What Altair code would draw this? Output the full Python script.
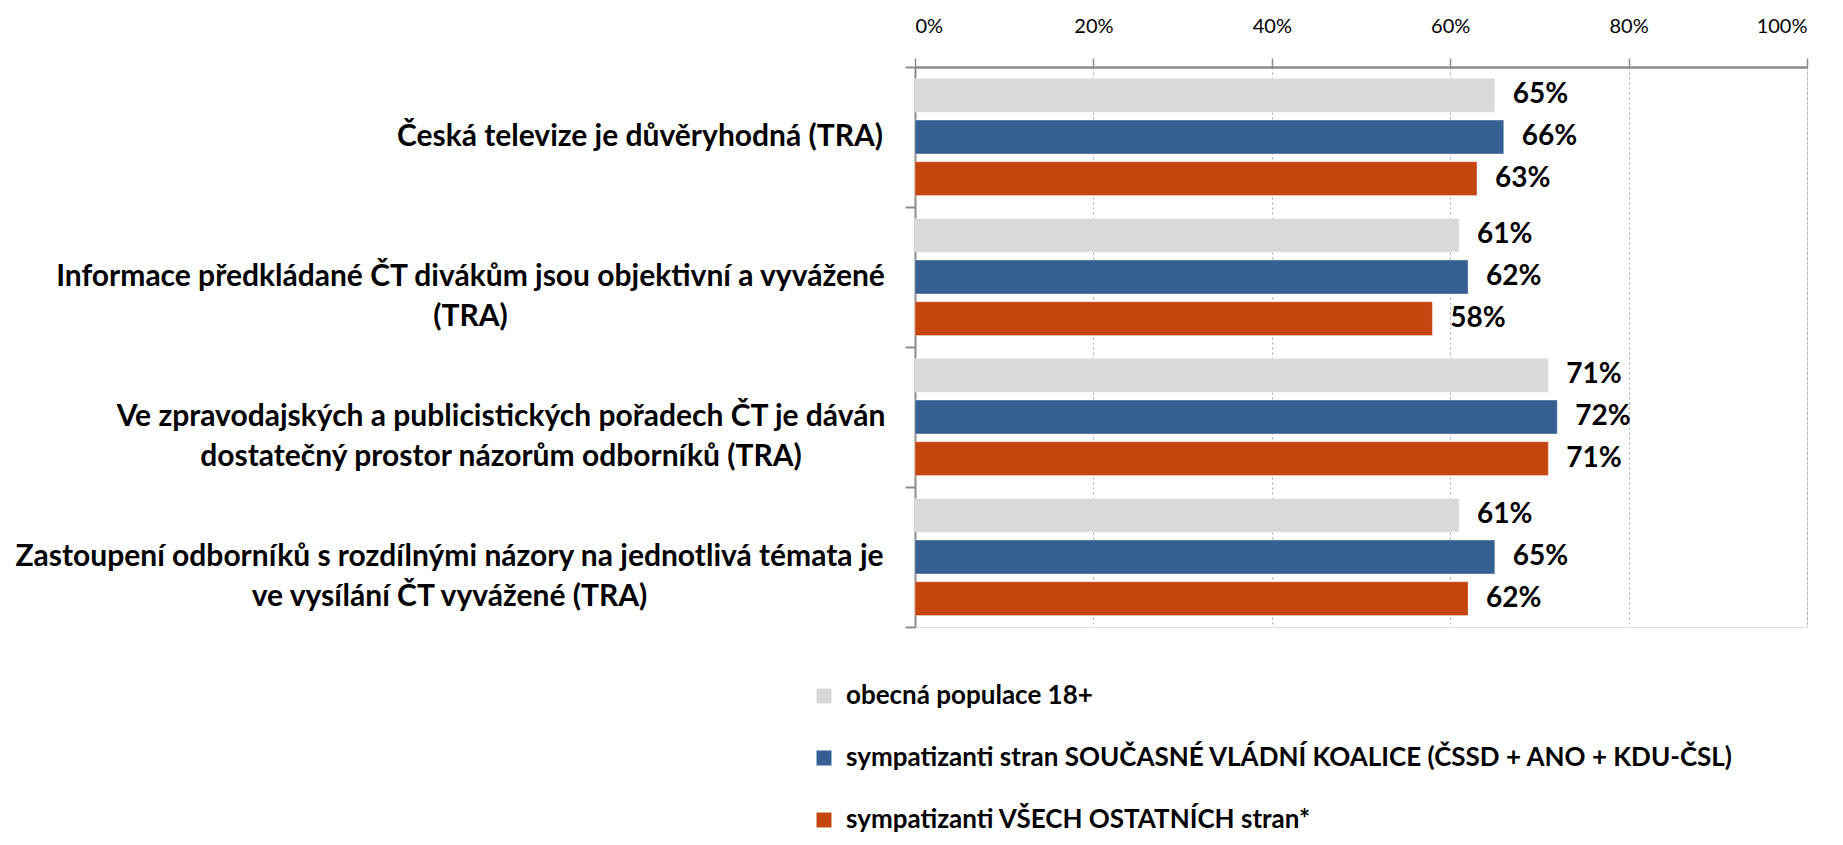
import altair as alt
import pandas as pd

# ---- data ----
categories = [
    "Česká televize je důvěryhodná (TRA)",
    "Informace předkládané ČT divákům jsou objektivní a vyvážené\n(TRA)",
    "Ve zpravodajských a publicistických pořadech ČT je dáván\ndostatečný prostor názorům odborníků (TRA)",
    "Zastoupení odborníků s rozdílnými názory na jednotlivá témata je\nve vysílání ČT vyvážené (TRA)",
]
series = [
    "obecná populace 18+",
    "sympatizanti stran SOUČASNÉ VLÁDNÍ KOALICE (ČSSD + ANO + KDU-ČSL)",
    "sympatizanti VŠECH OSTATNÍCH stran*",
]
general = [0.65, 0.61, 0.71, 0.61]
coalition = [0.66, 0.62, 0.72, 0.65]
others = [0.63, 0.58, 0.71, 0.62]
x_ticks = [0, 0.2, 0.4, 0.6, 0.8, 1.0]

# ---- styling ----
colors = ["#D9D9D9", "#376092", "#C4460E"]
label_block_widths = [488, 827, 766, 869]  # approximate rendered widths of category label blocks
FONT = "Lato"
GRAY = "#8C8C8C"

rows = []
for i, c in enumerate(categories):
    for s, vals in zip(series, [general, coalition, others]):
        rows.append({"cat": c, "series": s, "value": vals[i]})
df = pd.DataFrame(rows)

cat_df = pd.DataFrame({"cat": categories, "bw": label_block_widths})

y_enc = alt.Y(
    "cat:N",
    sort=categories,
    scale=alt.Scale(paddingInner=0, paddingOuter=0),
    axis=alt.Axis(
        labels=False, title=None, tickBand="extent", tickSize=10,
        tickColor=GRAY, tickWidth=2, domainColor=GRAY, domainWidth=2, grid=False,
    ),
)
yoff_enc = alt.YOffset(
    "series:N", sort=series, scale=alt.Scale(paddingInner=0.19, paddingOuter=0.274)
)
x_enc = alt.X(
    "value:Q",
    scale=alt.Scale(domain=[0, 1]),
    axis=alt.Axis(
        orient="top", format=".0%", values=x_ticks, title=None,
        labelFont=FONT, labelFontSize=20, labelColor="black",
        tickSize=9, tickColor=GRAY, tickWidth=1.5, labelPadding=22,
        domainColor=GRAY, domainWidth=2.5,
        grid=True, gridColor="#A6A6A6", gridDash=[2, 3], gridWidth=1,
    ),
)

bars = alt.Chart(df).mark_bar(stroke="white", strokeWidth=0.5, strokeOpacity=0.6).encode(
    x=x_enc,
    y=y_enc,
    yOffset=yoff_enc,
    color=alt.Color(
        "series:N",
        sort=series,
        scale=alt.Scale(domain=series, range=colors),
        legend=alt.Legend(
            title=None, orient="none", legendX=-104, legendY=616, direction="vertical",
            symbolType="square", symbolSize=225, symbolStrokeWidth=0,
            labelFont=FONT, labelFontSize=26, labelFontWeight="bold", labelColor="black",
            labelLimit=1200, rowPadding=36, labelOffset=9, padding=0,
        ),
    ),
)

values = alt.Chart(df).mark_text(
    align="left", baseline="middle", dx=18, font=FONT, fontSize=28, fontWeight="bold", color="black"
).encode(
    x="value:Q",
    y=alt.Y("cat:N", sort=categories),
    yOffset=alt.YOffset("series:N", sort=series),
    text=alt.Text("value:Q", format=".0%"),
)

cat_labels = alt.Chart(cat_df).mark_text(
    align="center", baseline="middle", font=FONT, fontSize=30, fontWeight="bold",
    color="black", lineBreak="\n", lineHeight=40,
    dx=alt.ExprRef("-(31 + datum.bw / 2)"),
).encode(
    x=alt.datum(0),
    y=alt.Y("cat:N", sort=categories),
    text="cat:N",
)

chart = alt.layer(bars, values, cat_labels).properties(
    width=892, height=560,
    autosize=alt.AutoSizeParams(type="none"),
    padding={"left": 907, "top": 59, "right": 28, "bottom": 210},
).configure_view(stroke=GRAY, strokeWidth=2).configure(background="white")

chart.save("out.html", embed_options={"renderer": "svg", "actions": False})
